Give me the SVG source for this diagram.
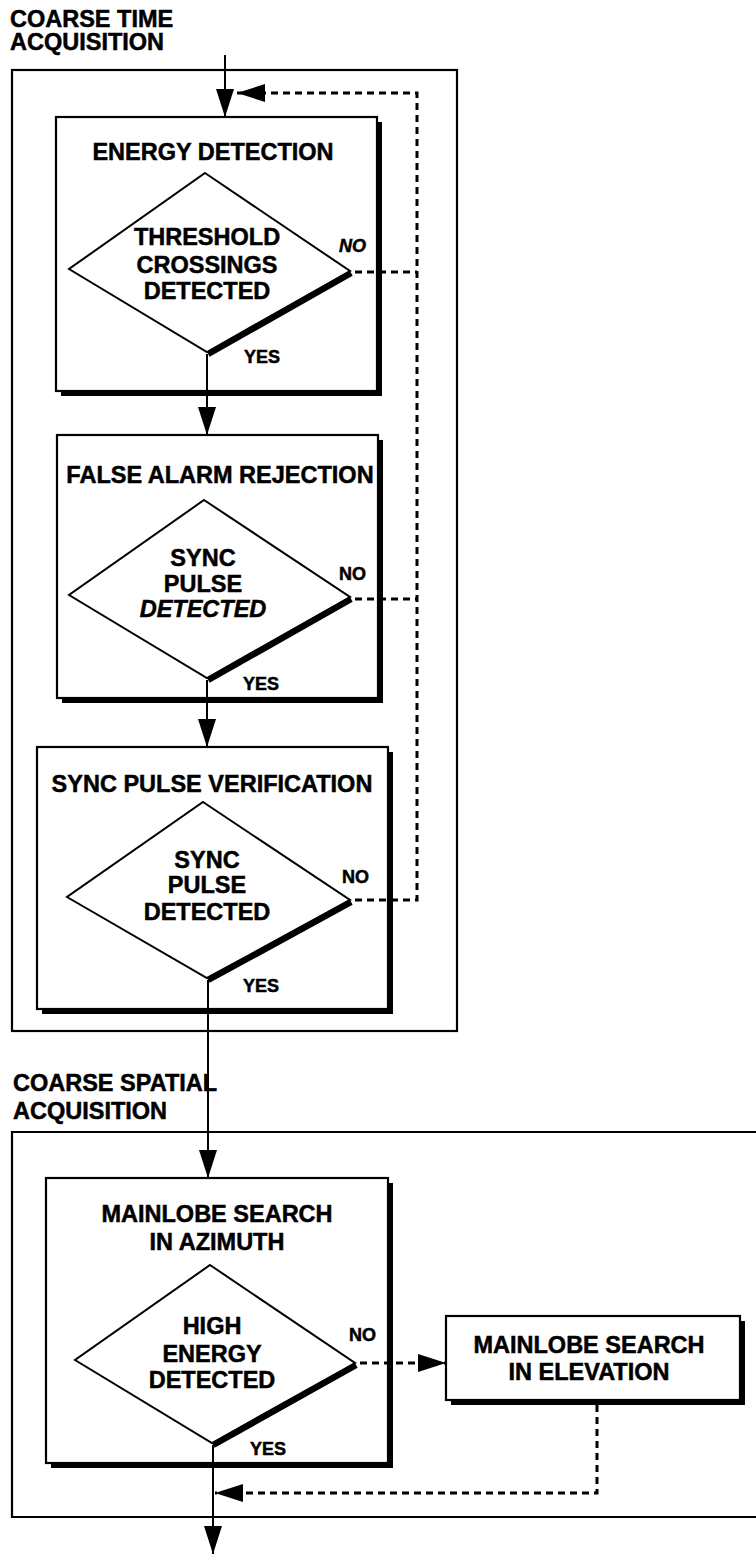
<svg xmlns="http://www.w3.org/2000/svg" width="756" height="1554" viewBox="0 0 756 1554">
<style>
text{font-family:"Liberation Sans",Arial,Helvetica,sans-serif;font-weight:bold;fill:#000;stroke:#000;stroke-width:0.5}
.t{font-size:23.5px;text-anchor:middle}
.tl{font-size:23.5px}
.s{font-size:18px}
.frame{fill:none;stroke:#000;stroke-width:2.2}
.box{fill:#fff;stroke:#000;stroke-width:2.2}
.shadow{fill:#000}
.dia{fill:#fff;stroke:#000;stroke-width:2;stroke-linejoin:miter}
.thick{fill:none;stroke:#000;stroke-width:6;stroke-linecap:butt}
.solid{fill:none;stroke:#000;stroke-width:2}
.dash{fill:none;stroke:#000;stroke-width:3;stroke-dasharray:7 5}
</style>
<defs>
<marker id="ah" markerUnits="userSpaceOnUse" markerWidth="28" markerHeight="18" refX="28" refY="9" orient="auto"><path d="M0,0 L28,9 L0,18 z" fill="#000"/></marker>
</defs>
<rect width="756" height="1554" fill="#fff"/>

<g id="coarse-time-acquisition">
<rect class="frame" x="12" y="70" width="445" height="961"/>
<text class="tl" x="10" y="27">COARSE TIME</text>
<text class="tl" x="10" y="50">ACQUISITION</text>
</g>

<g id="coarse-spatial-acquisition">
<path class="frame" d="M756 1132 H12 V1517 H756"/>
<text class="tl" x="13" y="1091">COARSE SPATIAL</text>
<text class="tl" x="13" y="1119">ACQUISITION</text>
</g>

<g id="energy-detection">
<rect class="shadow" x="61" y="122" width="321" height="274"/>
<rect class="box" x="56" y="117" width="321" height="274"/>
<text class="t" x="213" y="160">ENERGY DETECTION</text>
<polygon class="dia" points="205,173 350,271 207,352 69,269"/>
<line class="thick" x1="351.2" y1="273.2" x2="208.2" y2="354.2"/>
<text class="t" x="207" y="245">THRESHOLD</text>
<text class="t" x="207" y="273">CROSSINGS</text>
<text class="t" x="207" y="299">DETECTED</text>
<text class="s" x="339" y="252" font-style="italic">NO</text>
<text class="s" x="244" y="363">YES</text>
</g>

<g id="false-alarm-rejection">
<rect class="shadow" x="62" y="440" width="321" height="263"/>
<rect class="box" x="57" y="435" width="321" height="263"/>
<text class="t" x="220" y="483">FALSE ALARM REJECTION</text>
<polygon class="dia" points="204,500 350,597 207,678 69,595"/>
<line class="thick" x1="351.2" y1="599.2" x2="208.2" y2="680.2"/>
<text class="t" x="203" y="566">SYNC</text>
<text class="t" x="203" y="592">PULSE</text>
<text class="t" x="203" y="617" font-style="italic">DETECTED</text>
<text class="s" x="339" y="580">NO</text>
<text class="s" x="243" y="690">YES</text>
</g>

<g id="sync-pulse-verification">
<rect class="shadow" x="42" y="752" width="351" height="262"/>
<rect class="box" x="37" y="747" width="351" height="262"/>
<text class="t" x="212" y="792">SYNC PULSE VERIFICATION</text>
<polygon class="dia" points="203,802 350,900 207,978 67,897"/>
<line class="thick" x1="351.2" y1="902.2" x2="208.2" y2="980.2"/>
<text class="t" x="207" y="868">SYNC</text>
<text class="t" x="207" y="893">PULSE</text>
<text class="t" x="207" y="920">DETECTED</text>
<text class="s" x="342" y="883">NO</text>
<text class="s" x="243" y="992">YES</text>
</g>

<g id="mainlobe-search-azimuth">
<rect class="shadow" x="51" y="1183" width="342" height="285"/>
<rect class="box" x="46" y="1178" width="342" height="285"/>
<text class="t" x="217" y="1222">MAINLOBE SEARCH</text>
<text class="t" x="217" y="1250">IN AZIMUTH</text>
<polygon class="dia" points="210,1265 355,1363 212,1443 75,1360"/>
<line class="thick" x1="356.2" y1="1365.2" x2="213.2" y2="1445.2"/>
<text class="t" x="212" y="1334">HIGH</text>
<text class="t" x="212" y="1362">ENERGY</text>
<text class="t" x="212" y="1388">DETECTED</text>
<text class="s" x="349" y="1341">NO</text>
<text class="s" x="250" y="1455">YES</text>
</g>

<g id="mainlobe-search-elevation">
<rect class="shadow" x="451" y="1321" width="294" height="84"/>
<rect class="box" x="446" y="1316" width="294" height="84"/>
<text class="t" x="589" y="1353">MAINLOBE SEARCH</text>
<text class="t" x="589" y="1380">IN ELEVATION</text>
</g>

<g id="connectors">
<path class="solid" d="M225 55 V117" marker-end="url(#ah)"/>
<path class="solid" d="M207 354 V435" marker-end="url(#ah)"/>
<path class="solid" d="M207 680 V747" marker-end="url(#ah)"/>
<path class="solid" d="M208 980 V1178" marker-end="url(#ah)"/>
<path class="solid" d="M213 1445 V1554" marker-end="url(#ah)"/>
<path class="dash" d="M355 272 H417"/>
<path class="dash" d="M355 599 H417"/>
<path class="dash" d="M355 900 H417 V93 H237" marker-end="url(#ah)"/>
<path class="dash" d="M360 1363 H446" marker-end="url(#ah)"/>
<path class="dash" d="M597 1405 V1493 H215" marker-end="url(#ah)"/>
</g>
</svg>
